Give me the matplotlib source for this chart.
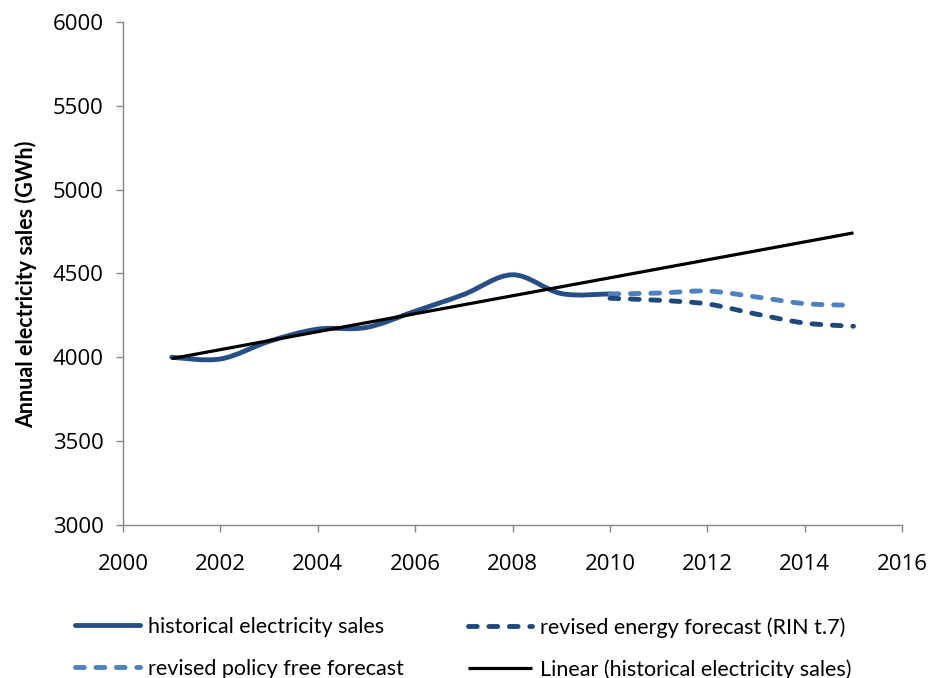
import numpy as np
import matplotlib
matplotlib.use("Agg")
import matplotlib.pyplot as plt
from matplotlib.path import Path
from matplotlib.patches import PathPatch
from matplotlib.lines import Line2D

# ---- data ----
hist_years = [2001, 2002, 2003, 2004, 2005, 2006, 2007, 2008, 2009, 2010]
hist_sales = [4000, 3990, 4095, 4168, 4178, 4275, 4375, 4492, 4380, 4378]
fc_years = [2010, 2011, 2012, 2013, 2014, 2015]
energy_fc = [4352, 4340, 4318, 4258, 4204, 4185]
policy_free_fc = [4378, 4383, 4395, 4360, 4320, 4310]
trend_years = [2001, 2015]

x_ticks = [2000, 2002, 2004, 2006, 2008, 2010, 2012, 2014, 2016]
y_ticks = [3000, 3500, 4000, 4500, 5000, 5500, 6000]

labels = ["historical electricity sales", "revised energy forecast (RIN t.7)",
          "revised policy free forecast", "Linear (historical electricity sales)"]

c_hist = "#264F88"
c_energy = "#1F497D"
c_policy = "#4F81BD"


def smooth_path(xs, ys):
    """Excel-style smoothed line as cubic Bezier segments (Catmull-Rom)."""
    P = np.column_stack([xs, ys]).astype(float)
    n = len(P)
    verts = [P[0]]
    codes = [Path.MOVETO]
    for i in range(n - 1):
        p0 = P[i - 1] if i > 0 else P[i]
        p1 = P[i]
        p2 = P[i + 1]
        p3 = P[i + 2] if i + 2 < n else P[i + 1]
        c1 = p1 + (p2 - p0) / 6.0
        c2 = p2 - (p3 - p1) / 6.0
        verts += [c1, c2, p2]
        codes += [Path.CURVE4] * 3
    return Path(verts, codes)


fig = plt.figure(figsize=(9.32, 6.78), dpi=100)
ax = fig.add_axes([0.132, 0.2257, 0.836, 0.742])

lw = 3.5
dash = (1.8, 2.4)
lw_lin = 2.3

ax.add_patch(PathPatch(smooth_path(hist_years, hist_sales), fill=False,
                       edgecolor=c_hist, lw=lw, capstyle="round", joinstyle="round", zorder=3))
ax.add_patch(PathPatch(smooth_path(fc_years, policy_free_fc), fill=False,
                       edgecolor=c_policy, lw=lw, linestyle=(0, dash), capstyle="round", zorder=3))
ax.add_patch(PathPatch(smooth_path(fc_years, energy_fc), fill=False,
                       edgecolor=c_energy, lw=lw, linestyle=(0, dash), capstyle="round", zorder=3))

coef = np.polyfit(hist_years, hist_sales, 1)
ty = np.polyval(coef, trend_years)
ax.plot(trend_years, ty, color="black", lw=lw_lin, solid_capstyle="butt", zorder=4)

ax.set_xlim(2000, 2016)
ax.set_ylim(3000, 6000)
ax.set_xticks(x_ticks)
ax.set_yticks(y_ticks)

for s in ["top", "right"]:
    ax.spines[s].set_visible(False)
for s in ["left", "bottom"]:
    ax.spines[s].set_color("#868686")
    ax.spines[s].set_linewidth(1.0)
ax.tick_params(axis="both", direction="out", length=5, width=1.0, color="#868686",
               labelsize=16, labelcolor="black")
ax.tick_params(axis="y", pad=9)
ax.tick_params(axis="x", pad=16)
for t in ax.get_xticklabels() + ax.get_yticklabels():
    t.set_family("Open Sans")

ax.set_ylabel("Annual electricity sales (GWh)", fontsize=15.5, fontweight="bold",
              family=["Lato", "DejaVu Sans"])
ax.yaxis.set_label_coords(-0.110, 0.478)

leg_font = {"family": ["Lato", "DejaVu Sans"], "size": 15.5}
common = dict(loc="upper left", frameon=False, prop=leg_font,
              handlelength=3.0, handletextpad=0.35, labelspacing=1.0,
              borderaxespad=0, borderpad=0)

h_hist = Line2D([], [], color=c_hist, lw=lw, solid_capstyle="round")
h_energy = Line2D([], [], color=c_energy, lw=lw, linestyle=(0, dash), dash_capstyle="round")
h_policy = Line2D([], [], color=c_policy, lw=lw, linestyle=(0, dash), dash_capstyle="round")
h_lin = Line2D([], [], color="black", lw=lw_lin, solid_capstyle="butt")

leg1 = fig.legend([h_hist, h_policy], [labels[0], labels[2]],
                  bbox_to_anchor=(0.081, 0.090), **common)
leg2 = fig.legend([h_energy, h_lin], [labels[1], labels[3]],
                  bbox_to_anchor=(0.502, 0.090), **common)

fig.savefig("out.png", dpi=100)
